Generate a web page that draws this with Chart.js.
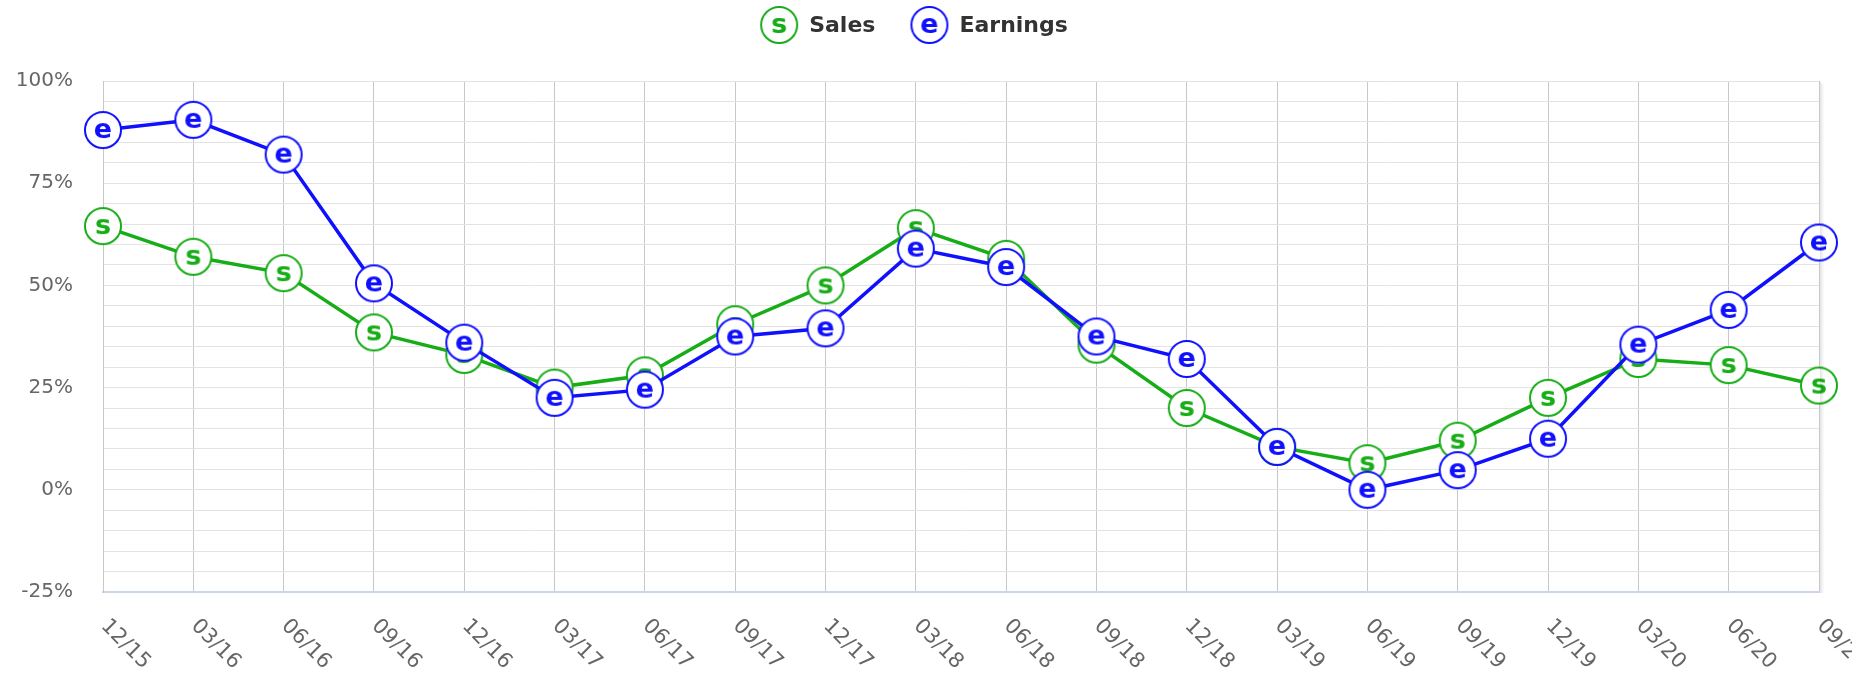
<!DOCTYPE html>
<html>
<head>
<meta charset="utf-8">
<script src="https://cdn.jsdelivr.net/npm/chart.js@4.4.1/dist/chart.umd.min.js"></script>
<style>
  html, body { margin: 0; padding: 0; background: #fff; }
</style>
</head>
<body>
<canvas id="chart" width="1852" height="680"></canvas>
<script>
// quarter labels on the x axis
const categories = ['12/15', '03/16', '06/16', '09/16', '12/16', '03/17', '06/17', '09/17', '12/17', '03/18',
  '06/18', '09/18', '12/18', '03/19', '06/19', '09/19', '12/19', '03/20', '06/20', '09/20'];

// values in percent
const salesValues = [64.5, 57, 53, 38.5, 33, 25, 28, 40.5, 50, 64, 56.5, 35.5, 20, 10.5, 6.5, 12, 22.5, 32, 30.5, 25.5];
const earningsValues = [88, 90.5, 82, 50.5, 36, 22.5, 24.5, 37.5, 39.5, 59, 54.5, 37.5, 32, 10.5, 0, 4.8, 12.5, 35.5, 44, 60.5];

// y axis: labels every 25, grid every 5
const yMin = -25;
const yMax = 100;
const yLabelStep = 25;
const yGridStep = 5;

const salesColor = '#17ad17';
const earningsColor = '#1010ff';

function makeMarker(letter, color) {
  const c = document.createElement('canvas');
  c.width = 42;
  c.height = 42;
  const g = c.getContext('2d');
  g.beginPath();
  g.arc(21, 21, 18, 0, Math.PI * 2);
  g.fillStyle = '#fff';
  g.fill();
  g.lineWidth = 2;
  g.strokeStyle = color;
  g.stroke();
  g.fillStyle = color;
  g.font = 'bold 27px "DejaVu Sans"';
  g.textAlign = 'center';
  g.textBaseline = 'alphabetic';
  g.fillText(letter, 21, 29);
  return c;
}

const salesMarker = makeMarker('s', salesColor);
const earningsMarker = makeMarker('e', earningsColor);

// legend, rotated x labels and the plot shadow
const extras = {
  id: 'extras',
  afterDraw(chart) {
    const ctx = chart.ctx;
    const area = chart.chartArea;
    const x = chart.scales.x;

    // soft shadow on the right edge of the plot
    ctx.save();
    for (let i = 1; i <= 4; i++) {
      ctx.strokeStyle = 'rgba(0,0,0,' + (0.12 - i * 0.025) + ')';
      ctx.lineWidth = 1;
      ctx.beginPath();
      ctx.moveTo(area.right + i + 0.5, area.top + i);
      ctx.lineTo(area.right + i + 0.5, area.bottom + 1);
      ctx.stroke();
    }
    ctx.restore();

    // x labels, turned 45 degrees clockwise
    ctx.save();
    ctx.font = '21px "DejaVu Sans"';
    ctx.fillStyle = '#666';
    ctx.textAlign = 'left';
    ctx.textBaseline = 'middle';
    categories.forEach((lab, i) => {
      const px = x.getPixelForValue(i);
      ctx.save();
      ctx.translate(px + 1, area.bottom + 31);
      ctx.rotate(Math.PI / 4);
      ctx.fillText(lab, 0, 0);
      ctx.restore();
    });
    ctx.restore();

    // legend
    ctx.save();
    ctx.font = 'bold 22px "DejaVu Sans"';
    ctx.textBaseline = 'middle';
    ctx.textAlign = 'left';
    const items = chart.data.datasets.slice().sort((a, b) => a.legendIndex - b.legendIndex);
    const widths = items.map(d => 38 + 11 + ctx.measureText(d.label).width);
    const gap = 35;
    const total = widths.reduce((s, w) => s + w, 0) + gap * (items.length - 1);
    let lx = 914 - total / 2;
    const ly = 25;
    items.forEach((d, i) => {
      ctx.drawImage(d.pointStyle, lx + 19 - 21, ly - 21);
      ctx.fillStyle = '#333';
      ctx.fillText(d.label, lx + 49, ly + 1);
      lx += widths[i] + gap;
    });
    ctx.restore();
  }
};

new Chart(document.getElementById('chart'), {
  type: 'line',
  data: {
    labels: categories,
    datasets: [{
      label: 'Earnings',
      legendIndex: 1,
      order: 0,
      data: earningsValues,
      borderColor: earningsColor,
      backgroundColor: earningsColor,
      borderWidth: 3.5,
      pointStyle: earningsMarker,
      pointRadius: 19,
      tension: 0,
      clip: false
    }, {
      label: 'Sales',
      legendIndex: 0,
      order: 1,
      data: salesValues,
      borderColor: salesColor,
      backgroundColor: salesColor,
      borderWidth: 3.5,
      pointStyle: salesMarker,
      pointRadius: 19,
      tension: 0,
      clip: false
    }]
  },
  options: {
    responsive: false,
    animation: false,
    layout: {
      padding: { top: 81, right: 33, bottom: 88, left: 0 }
    },
    plugins: {
      legend: { display: false },
      tooltip: { enabled: false }
    },
    scales: {
      x: {
        offset: false,
        grid: { color: '#c8c8c8', drawTicks: false },
        border: { color: '#ccd6eb', width: 2 },
        ticks: { display: false }
      },
      y: {
        min: yMin,
        max: yMax,
        afterFit: function(scale) {
          scale.width = 103;
        },
        grid: { color: '#e3e3e3', drawTicks: false },
        border: { color: '#c8c8c8', width: 1 },
        ticks: {
          stepSize: yGridStep,
          maxTicksLimit: 40,
          autoSkip: false,
          padding: 30,
          color: '#666',
          font: { family: 'DejaVu Sans', size: 20 },
          callback: function(value) {
            return value % yLabelStep === 0 ? value + '%' : '';
          }
        }
      }
    }
  },
  plugins: [extras]
});
</script>
</body>
</html>
